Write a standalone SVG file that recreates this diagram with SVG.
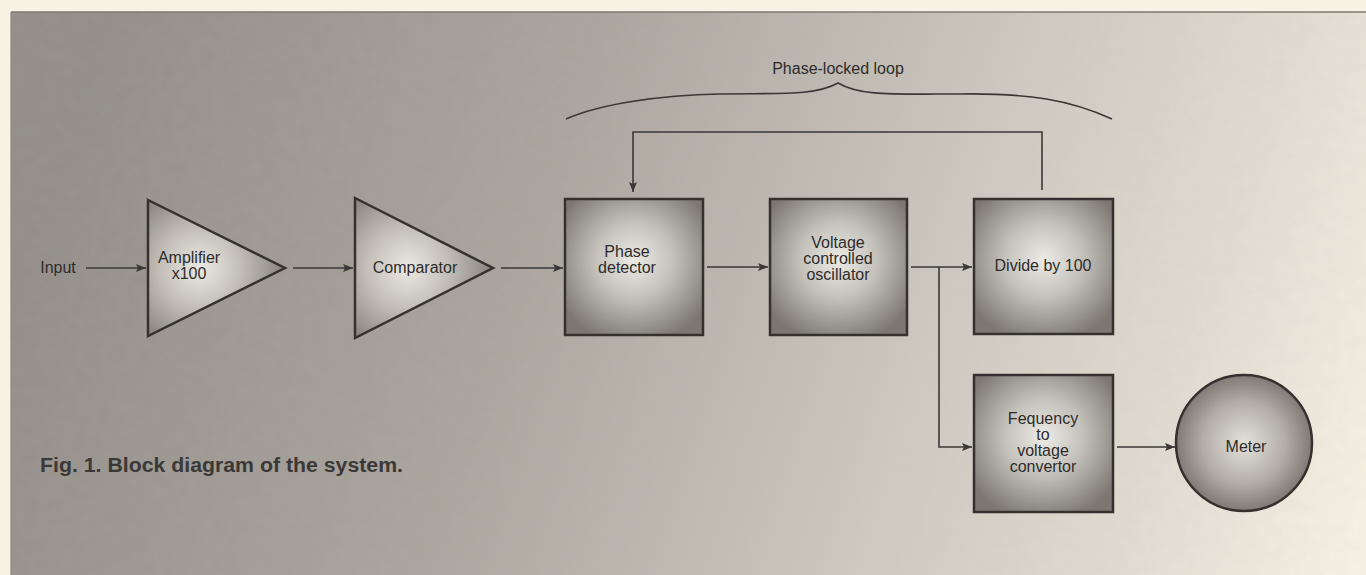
<svg xmlns="http://www.w3.org/2000/svg" width="1366" height="575" viewBox="0 0 1366 575">
  <defs>
    <linearGradient id="bg" gradientUnits="userSpaceOnUse" x1="60" y1="150" x2="1340" y2="575">
      <stop offset="0" stop-color="#928d88"/>
      <stop offset="0.35" stop-color="#aaa49d"/>
      <stop offset="0.65" stop-color="#cdc8bf"/>
      <stop offset="0.85" stop-color="#e2ddd2"/>
      <stop offset="1" stop-color="#f6f2e4"/>
    </linearGradient>
    <radialGradient id="boxg" cx="0.5" cy="0.45" r="0.62">
      <stop offset="0" stop-color="#ecebe6"/>
      <stop offset="0.45" stop-color="#c4c1bb"/>
      <stop offset="1" stop-color="#7c7773"/>
    </radialGradient>
    <radialGradient id="trig" cx="0.38" cy="0.5" r="0.6">
      <stop offset="0" stop-color="#ebe9e3"/>
      <stop offset="0.5" stop-color="#c2beb7"/>
      <stop offset="1" stop-color="#8a8580"/>
    </radialGradient>
    <radialGradient id="meterg" cx="0.5" cy="0.5" r="0.55">
      <stop offset="0" stop-color="#e4e1db"/>
      <stop offset="0.55" stop-color="#b2ada7"/>
      <stop offset="1" stop-color="#736d69"/>
    </radialGradient>
    <filter id="grain" x="0" y="0" width="100%" height="100%">
      <feTurbulence type="fractalNoise" baseFrequency="0.08" numOctaves="2" seed="3" result="n"/>
      <feColorMatrix in="n" type="matrix" values="0 0 0 0 0.5  0 0 0 0 0.5  0 0 0 0 0.5  0 0 0 0.12 0"/>
    </filter>
    <marker id="arr" viewBox="0 0 10 8" refX="10" refY="4" markerWidth="10" markerHeight="8" markerUnits="userSpaceOnUse" orient="auto">
      <path d="M0,0 L10,4 L0,8 L2,4 Z" fill="#3a3836"/>
    </marker>
    <style>
      .lbl { font-family: "Liberation Sans", Arial, sans-serif; font-size: 16px; fill: #2e2c2a; text-anchor: middle; }
      .box { fill: url(#boxg); stroke: #34312f; stroke-width: 2.5; }
      .tri { fill: url(#trig); stroke: #34312f; stroke-width: 2.5; stroke-linejoin: miter; }
      .wire { fill: none; stroke: #3a3836; stroke-width: 1.6; }
      .cap { font-family: "Liberation Sans Narrow", "Liberation Sans", Arial, sans-serif; font-size: 20px; font-weight: bold; fill: #3b3937; }
    </style>
  </defs>

  <!-- page background -->
  <rect x="0" y="0" width="1366" height="575" fill="#f6f2e4"/>
  <rect x="11" y="12" width="1355" height="563" fill="url(#bg)"/>
  <rect x="11" y="12" width="1355" height="563" filter="url(#grain)"/>
  <line x1="11" y1="12" x2="1366" y2="12" stroke="#7d7a72" stroke-width="1.5"/>
  <line x1="11" y1="12" x2="11" y2="575" stroke="#8a867e" stroke-width="1.2"/>

  <!-- connectors -->
  <g id="connectors">
    <line class="wire" x1="86" y1="268" x2="146" y2="268" marker-end="url(#arr)"/>
    <line class="wire" x1="293" y1="268" x2="353" y2="268" marker-end="url(#arr)"/>
    <line class="wire" x1="501" y1="268" x2="563" y2="268" marker-end="url(#arr)"/>
    <line class="wire" x1="707" y1="267" x2="768" y2="267" marker-end="url(#arr)"/>
    <line class="wire" x1="911" y1="267" x2="972" y2="267" marker-end="url(#arr)"/>
    <polyline class="wire" points="939,267 939,447 972,447" marker-end="url(#arr)"/>
    <line class="wire" x1="1117" y1="447" x2="1175" y2="447" marker-end="url(#arr)"/>
    <polyline class="wire" points="1042,190 1042,132 633,132 633,192" marker-end="url(#arr)"/>
    <!-- brace -->
    <path class="wire" d="M566,119 C600,104 660,95 720,94 C780,93 815,96 838,83 C860,96 890,94 960,94 C1030,93 1070,100 1112,119"/>
  </g>

  <text class="lbl" x="838" y="74">Phase-locked loop</text>

  <text id="input-label" class="lbl" x="58" y="273">Input</text>

  <g id="amplifier">
    <polygon class="tri" points="148,200 285,268 148,336"/>
    <text class="lbl" x="189" y="263">Amplifier</text>
    <text class="lbl" x="189" y="279">x100</text>
  </g>

  <g id="comparator">
    <polygon class="tri" points="355,198 493,268 355,338"/>
    <text class="lbl" x="415" y="273">Comparator</text>
  </g>

  <g id="phase-detector">
    <rect class="box" x="565" y="199" width="138" height="136"/>
    <text class="lbl" x="627" y="257">Phase</text>
    <text class="lbl" x="627" y="273">detector</text>
  </g>

  <g id="vco">
    <rect class="box" x="770" y="199" width="137" height="136"/>
    <text class="lbl" x="838" y="248">Voltage</text>
    <text class="lbl" x="838" y="264">controlled</text>
    <text class="lbl" x="838" y="280">oscillator</text>
  </g>

  <g id="divide">
    <rect class="box" x="974" y="199" width="139" height="135"/>
    <text class="lbl" x="1043" y="271">Divide by 100</text>
  </g>

  <g id="f-to-v">
    <rect class="box" x="974" y="375" width="139" height="137"/>
    <text class="lbl" x="1043" y="424">Fequency</text>
    <text class="lbl" x="1043" y="440">to</text>
    <text class="lbl" x="1043" y="456">voltage</text>
    <text class="lbl" x="1043" y="472">convertor</text>
  </g>

  <g id="meter">
    <circle cx="1244" cy="443" r="68" fill="url(#meterg)" stroke="#34312f" stroke-width="2.5"/>
    <text class="lbl" x="1246" y="452">Meter</text>
  </g>

  <text class="cap" x="40" y="472" textLength="363" lengthAdjust="spacingAndGlyphs">Fig. 1. Block diagram of the system.</text>
</svg>
